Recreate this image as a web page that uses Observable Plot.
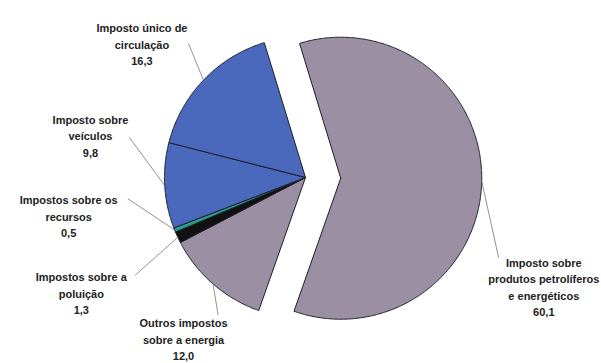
<!DOCTYPE html>
<html>
<head>
<meta charset="utf-8">
<script src="https://cdn.jsdelivr.net/npm/d3@7"></script>
<script src="https://cdn.jsdelivr.net/npm/@observablehq/plot@0.6"></script>
<style>
  html, body { margin: 0; padding: 0; background: #fff; }
  #chart svg { display: block; }
</style>
</head>
<body>
<div id="chart"></div>
<script>
// ---- data (clockwise order, starting with the exploded slice) ----
const categories = [
  "Imposto sobre produtos petrolíferos e energéticos",
  "Outros impostos sobre a energia",
  "Impostos sobre a poluição",
  "Impostos sobre os recursos",
  "Imposto sobre veículos",
  "Imposto único de circulação"
];
const values = [60.1, 12.0, 1.3, 0.5, 9.8, 16.3];
const valueLabels = ["60,1", "12,0", "1,3", "0,5", "9,8", "16,3"];
const labelLines = [
  "Imposto sobre\nprodutos petrolíferos\ne energéticos",
  "Outros impostos\nsobre a energia",
  "Impostos sobre a\npoluição",
  "Impostos sobre os\nrecursos",
  "Imposto sobre\nveículos",
  "Imposto único de\ncirculação"
];
const colors = ["#9b8fa3", "#9b8fa3", "#111111", "#2a9e8c", "#4a69bd", "#4a69bd"];
const exploded = [0.25, 0, 0, 0, 0, 0];

// ---- layout (units = pie radius, centre of pie = 0,0) ----
const startAngle = -17;           // degrees clockwise from 12 o'clock
const labelPos = [                 // centre of each label block
  [1.69, -0.77], [-0.865, -1.14], [-1.59, -0.815],
  [-1.68, -0.27], [-1.525, 0.30], [-1.16, 0.95]
];
const leaderStart = [
  [1.37, -0.57], [-0.62, -0.975], [-1.21, -0.695],
  [-1.26, -0.15], [-1.25, 0.285], [-0.83, 0.95]
];

// ---- build slices ----
const total = d3.sum(values);
const rad = d => d * Math.PI / 180;
let acc = startAngle;
const slices = categories.map((name, i) => {
  const a0 = acc, a1 = acc + values[i] / total * 360;
  acc = a1;
  const mid = (a0 + a1) / 2;
  const off = exploded[i];
  const cx = off * Math.sin(rad(mid)), cy = off * Math.cos(rad(mid));
  return {name, i, a0, a1, mid, cx, cy};
});
const polyPts = [];
slices.forEach(s => {
  polyPts.push({name: s.name, x: s.cx, y: s.cy});
  const n = Math.max(2, Math.ceil((s.a1 - s.a0) / 0.5));
  for (let k = 0; k <= n; k++) {
    const a = s.a0 + (s.a1 - s.a0) * k / n;
    polyPts.push({name: s.name, x: s.cx + Math.sin(rad(a)), y: s.cy + Math.cos(rad(a))});
  }
  polyPts.push({name: s.name, x: s.cx, y: s.cy});
});
const labels = slices.map(s => ({
  text: labelLines[s.i] + "\n" + valueLabels[s.i],
  x: labelPos[s.i][0], y: labelPos[s.i][1]
}));
const leaders = slices.map(s => ({
  x1: leaderStart[s.i][0], y1: leaderStart[s.i][1],
  x2: s.cx + Math.sin(rad(s.mid)), y2: s.cy + Math.cos(rad(s.mid))
}));

const W = 601, H = 363, R = 141, CX = 305, CY = 177;
const chart = Plot.plot({
  width: W, height: H,
  margin: 0,
  x: {domain: [-CX / R, (W - CX) / R], axis: null},
  y: {domain: [-(H - CY) / R, CY / R], axis: null},
  color: {domain: categories, range: colors},
  marks: [
    Plot.line(polyPts, {x: "x", y: "y", z: "name", fill: "name", stroke: "#1e1e2a", strokeWidth: 1, curve: "linear"}),
    Plot.link(leaders, {x1: "x1", y1: "y1", x2: "x2", y2: "y2", stroke: "#777", strokeWidth: 0.8}),
    Plot.text(labels, {x: "x", y: "y", text: "text", lineAnchor: "middle", textAnchor: "middle",
      fontSize: 11, lineHeight: 1.5, fontWeight: "bold", fill: "#222",
      fontFamily: "'Liberation Sans', Arial, sans-serif"})
  ]
});
document.getElementById("chart").appendChild(chart);
</script>
</body>
</html>
